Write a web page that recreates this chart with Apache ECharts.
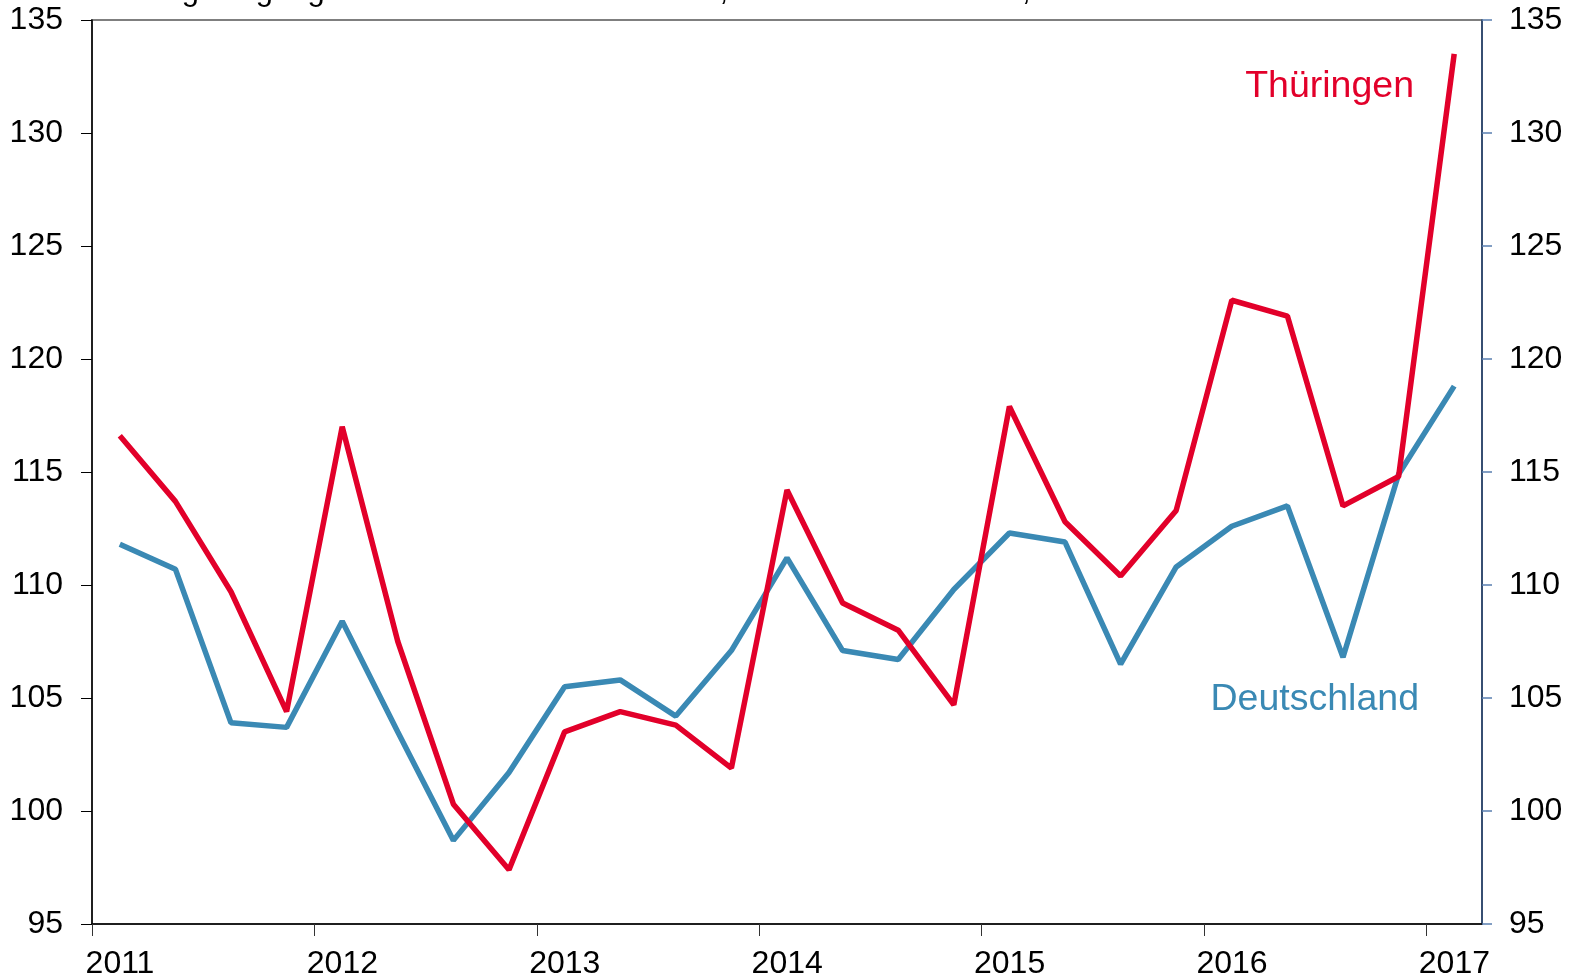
<!DOCTYPE html>
<html>
<head>
<meta charset="utf-8">
<script src="https://cdn.jsdelivr.net/npm/echarts@6/dist/echarts.min.js"></script>
<style>
html,body{margin:0;padding:0;background:#fff;}
#c{width:1578px;height:980px;}
</style>
</head>
<body>
<div id="c"></div>
<script>
const quarters = ['2011Q1','2011Q2','2011Q3','2011Q4','2012Q1','2012Q2','2012Q3','2012Q4','2013Q1','2013Q2','2013Q3','2013Q4','2014Q1','2014Q2','2014Q3','2014Q4','2015Q1','2015Q2','2015Q3','2015Q4','2016Q1','2016Q2','2016Q3','2016Q4','2017Q1'];
const thueringen = [116.6,113.7,109.7,104.4,117.0,107.5,100.3,97.4,103.5,104.4,103.8,101.9,114.2,109.2,108.0,104.7,117.9,112.8,110.4,113.3,122.6,121.9,113.5,114.8,133.5];
const deutschland = [111.8,110.7,103.9,103.7,108.4,103.5,98.7,101.7,105.5,105.8,104.2,107.1,111.2,107.1,106.7,109.8,112.3,111.9,106.5,110.8,112.6,113.5,106.8,114.9,118.8];
const yTicks = [95,100,105,110,115,120,125,130,135];
const xYears = [2011,2012,2013,2014,2015,2016,2017];
const titleText = 'Auftragseingang im Verarbeitenden Gewerbe, Volumen 2010 = 100, Stand 2017';

// quarter label -> mid-quarter position on the time axis
function qPos(q){ const y = parseInt(q.slice(0,4),10); const n = parseInt(q.slice(5),10); return y + (n - 0.5)/4; }
const tData = quarters.map((q,i)=>[qPos(q), thueringen[i]]);
const dData = quarters.map((q,i)=>[qPos(q), deutschland[i]]);

const FONT = 'Liberation Sans, Arial, sans-serif';
const chart = echarts.init(document.getElementById('c'), null, {renderer:'canvas'});
chart.setOption({
  animation:false,
  backgroundColor:'#ffffff',
  grid:{left:92,right:96,top:20,bottom:56,show:true,borderColor:'#7f7f7f',borderWidth:2,backgroundColor:'transparent'},
  xAxis:{
    type:'value', min:xYears[0], max:2017.25, interval:1,
    axisLine:{show:true,onZero:false,lineStyle:{color:'#000',width:1.5}},
    axisTick:{show:true,length:12,lineStyle:{color:'#333',width:1}},
    axisLabel:{fontSize:32,fontFamily:FONT,color:'#000',margin:24,showMaxLabel:false,padding:[0,0,0,56],
      formatter:v=> (xYears.indexOf(Math.round(v))>=0 && Math.abs(v-Math.round(v))<1e-6) ? String(Math.round(v)) : ''},
    splitLine:{show:false}
  },
  yAxis:[{
    type:'value', min:yTicks[0], max:yTicks[yTicks.length-1], interval:5, position:'left',
    axisLine:{show:true,lineStyle:{color:'#000',width:1.5}},
    axisTick:{show:true,length:11,lineStyle:{color:'#000',width:1}},
    axisLabel:{fontSize:32,fontFamily:FONT,color:'#000',margin:29},
    splitLine:{show:false}
  },{
    type:'value', min:yTicks[0], max:yTicks[yTicks.length-1], interval:5, position:'right',
    axisLine:{show:true,lineStyle:{color:'#1f3f6e',width:1.5}},
    axisTick:{show:true,length:10,lineStyle:{color:'#5a7fb0',width:1.5}},
    axisLabel:{fontSize:32,fontFamily:FONT,color:'#000',margin:27},
    splitLine:{show:false}
  }],
  series:[
    {name:'Deutschland',type:'line',data:dData,showSymbol:false,lineStyle:{color:'#3a89b4',width:5.5},itemStyle:{color:'#3a89b4'},z:2},
    {name:'Thüringen',type:'line',data:tData,showSymbol:false,lineStyle:{color:'#e2002a',width:5.5},itemStyle:{color:'#e2002a'},z:3}
  ],
  graphic:[
    {type:'text',style:{x:99,y:7,text:titleText,font:'31px '+FONT,fill:'#000',verticalAlign:'bottom',align:'left'}},
    {type:'text',style:{x:1414,y:87,text:'Thüringen',font:'37.5px '+FONT,fill:'#e2002a',align:'right',verticalAlign:'middle'}},
    {type:'text',style:{x:1419,y:700,text:'Deutschland',font:'37.5px '+FONT,fill:'#3a89b4',align:'right',verticalAlign:'middle'}}
  ]
});
</script>
</body>
</html>
